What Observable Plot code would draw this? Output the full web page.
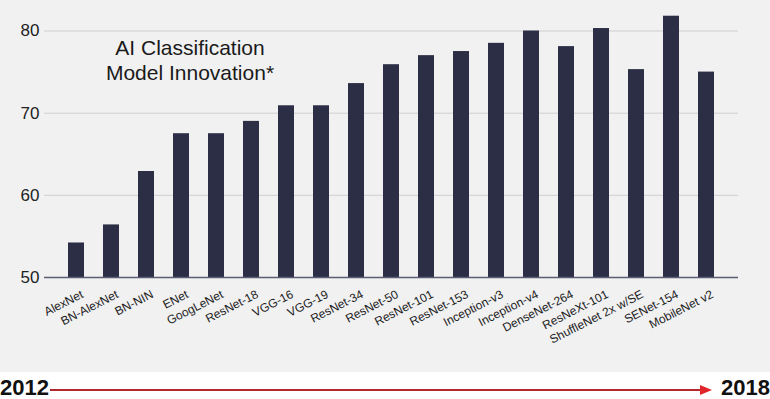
<!DOCTYPE html>
<html>
<head>
<meta charset="utf-8">
<script src="https://cdn.jsdelivr.net/npm/d3@7"></script>
<script src="https://cdn.jsdelivr.net/npm/@observablehq/plot@0.6"></script>
<style>
  html, body { margin: 0; padding: 0; background: #ffffff; }
  #wrap { position: relative; width: 770px; height: 399px; overflow: hidden; font-family: "Liberation Sans", Arial, Helvetica, sans-serif; }
  #chart svg { display: block; }
  #title { position: absolute; left: 40px; top: 35px; width: 300px; text-align: center; font-size: 21px; line-height: 25px; color: #1a1a1a; }
  #strip { position: absolute; left: 0; top: 372px; width: 770px; height: 27px; background: #ffffff; }
  .year { position: absolute; font-weight: bold; font-size: 22px; line-height: 20px; color: #111; }
  #line { position: absolute; left: 50px; top: 389px; width: 651px; height: 1.5px; background: #b3282d; }
  #arrow { position: absolute; left: 700px; top: 385px; width: 0; height: 0; border-top: 5px solid transparent; border-bottom: 5px solid transparent; border-left: 12px solid #e0262b; }
</style>
</head>
<body>
<div id="wrap">
  <div id="chart"></div>
  <div id="title">AI Classification<br>Model Innovation*</div>
  <div id="strip"></div>
  <div id="line"></div>
  <div id="arrow"></div>
  <div class="year" style="left:0px; top:378px;">2012</div>
  <div class="year" style="left:721px; top:378px;">2018</div>
</div>
<script>
const models = [
  "AlexNet", "BN-AlexNet", "BN-NIN", "ENet", "GoogLeNet", "ResNet-18",
  "VGG-16", "VGG-19", "ResNet-34", "ResNet-50", "ResNet-101", "ResNet-153",
  "Inception-v3", "Inception-v4", "DenseNet-264", "ResNeXt-101",
  "ShuffleNet 2x w/SE", "SENet-154", "MobileNet v2"
];
const accuracy = [
  54.2, 56.4, 62.9, 67.5, 67.5, 69.0,
  70.9, 70.9, 73.6, 75.9, 77.0, 77.5,
  78.5, 80.0, 78.1, 80.3,
  75.3, 81.8, 75.0
];
const yTicks = [50, 60, 70, 80];
const baseline = 50;

const data = models.map((m, i) => ({model: m, acc: accuracy[i]}));

const chart = Plot.plot({
  width: 770,
  height: 372,
  marginLeft: 44,
  marginRight: 32,
  marginTop: 0,
  marginBottom: 95,
  style: {background: "#f1f1f2", fontFamily: "'Liberation Sans', Arial, Helvetica, sans-serif", color: "#222"},
  x: {domain: models, padding: 0.55, label: null},
  y: {domain: [50, 80], range: [277, 30.5], label: null},
  marks: [
    Plot.gridY({ticks: yTicks.filter(t => t !== baseline), stroke: "#cfcfd2", strokeOpacity: 1, strokeWidth: 1}),
    Plot.barY(data, {x: "model", y1: baseline, y2: "acc", fill: "#2b2e44"}),
    Plot.ruleY([baseline], {stroke: "#5a5e72", strokeWidth: 1.5}),
    Plot.axisY({ticks: yTicks, tickSize: 0, tickPadding: 5, fontSize: 17, label: null, fill: "#222"}),
    Plot.axisX({tickSize: 0, tickRotate: -27, tickPadding: 16, dx: 6, fontSize: 12, label: null, fill: "#222"})
  ]
});
document.getElementById("chart").appendChild(chart);
</script>
</body>
</html>
